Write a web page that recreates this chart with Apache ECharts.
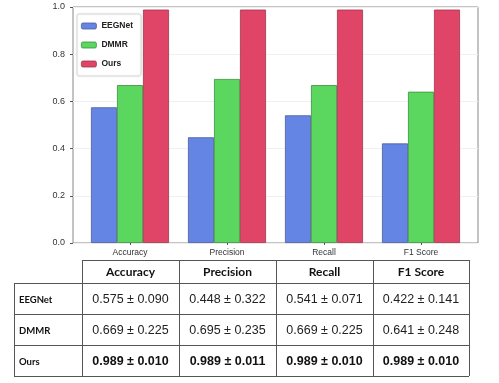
<!DOCTYPE html>
<html>
<head>
<meta charset="utf-8">
<script src="https://cdn.jsdelivr.net/npm/echarts@6/dist/echarts.min.js"></script>
<style>html,body{margin:0;padding:0;background:#fff;}#c{width:499px;height:383px;}</style>
</head>
<body>
<div id="c"></div>
<script>
var categories = ['Accuracy', 'Precision', 'Recall', 'F1 Score'];
var seriesNames = ['EEGNet', 'DMMR', 'Ours'];
var eegnet = [0.575, 0.448, 0.541, 0.422];
var dmmr = [0.669, 0.695, 0.669, 0.641];
var ours = [0.989, 0.989, 0.989, 0.989];
var eegnetStd = [0.090, 0.322, 0.071, 0.141];
var dmmrStd = [0.225, 0.235, 0.225, 0.248];
var oursStd = [0.010, 0.011, 0.010, 0.010];
var yTicks = [0, 0.2, 0.4, 0.6, 0.8, 1.0];

var colors = ['#6585E5', '#5BD65E', '#E04466'];
var borders = ['#4A5C9C', '#3C8E3F', '#A0354D'];

var chart = echarts.init(document.getElementById('c'), null, {renderer: 'canvas'});

// table geometry
var colX = [14, 82, 179, 276, 373, 469];
var rowY = [260, 283, 314, 345, 376];
var lineColor = '#555';
var g = [];
function hline(y, x1, x2) { g.push({type: 'line', shape: {x1: x1, y1: y, x2: x2, y2: y}, style: {stroke: lineColor, lineWidth: 1}, z: 10}); }
function vline(x, y1, y2) { g.push({type: 'line', shape: {x1: x, y1: y1, x2: x, y2: y2}, style: {stroke: lineColor, lineWidth: 1}, z: 10}); }
hline(rowY[0] + 0.5, colX[1], colX[5]);
for (var r = 1; r < rowY.length; r++) hline(rowY[r] + 0.5, colX[0], colX[5]);
vline(colX[0] + 0.5, rowY[1], rowY[4]);
for (var c = 1; c < colX.length; c++) vline(colX[c] + 0.5, rowY[0], rowY[4]);

for (var i = 0; i < categories.length; i++) {
  g.push({type: 'text', x: (colX[i + 1] + colX[i + 2]) / 2, y: (rowY[0] + rowY[1]) / 2 + 1,
    style: {text: categories[i], font: 'bold 12px Lato', fill: '#111', textAlign: 'center', textVerticalAlign: 'middle'}});
}
var tableRows = [[eegnet, eegnetStd], [dmmr, dmmrStd], [ours, oursStd]];
for (var r2 = 0; r2 < seriesNames.length; r2++) {
  var cy = (rowY[r2 + 1] + rowY[r2 + 2]) / 2 + 1;
  var bold = r2 === 2;
  g.push({type: 'text', x: colX[0] + 5, y: cy,
    style: {text: seriesNames[r2], font: 'bold 9.5px Lato', fill: '#111', textAlign: 'left', textVerticalAlign: 'middle'}});
  for (var k = 0; k < categories.length; k++) {
    var txt = tableRows[r2][0][k].toFixed(3) + ' \u00b1 ' + tableRows[r2][1][k].toFixed(3);
    g.push({type: 'text', x: (colX[k + 1] + colX[k + 2]) / 2, y: cy,
      style: {text: txt, font: (bold ? 'bold ' : '') + '12.5px "Liberation Sans"', fill: bold ? '#111' : '#222', textAlign: 'center', textVerticalAlign: 'middle'}});
  }
}

var barData = [eegnet, dmmr, ours];
var series = seriesNames.map(function (name, i) {
  return {
    name: name, type: 'bar', xAxisIndex: 1, yAxisIndex: 1,
    data: barData[i], barWidth: 26, barGap: '0%',
    itemStyle: {color: colors[i], borderColor: borders[i], borderWidth: 0.8},
    emphasis: {disabled: true}
  };
});

chart.setOption({
  animation: false,
  textStyle: {fontFamily: '"Liberation Sans", Arial, sans-serif'},
  grid: [
    {left: 73, top: 7, width: 405, height: 236, show: true, borderColor: '#888', borderWidth: 1, backgroundColor: 'transparent'},
    {left: 81.5, top: 7, width: 388, height: 236}
  ],
  xAxis: [
    {gridIndex: 0, type: 'value', min: 0, max: 1, show: false},
    {gridIndex: 1, type: 'category', data: categories,
      axisLine: {show: false},
      axisTick: {show: true, alignWithLabel: true, length: 2, lineStyle: {color: '#555'}},
      axisLabel: {fontSize: 8.5, color: '#333', margin: 5}}
  ],
  yAxis: [
    {gridIndex: 0, type: 'value', min: 0, max: 1, interval: 0.2,
      axisLine: {show: false},
      axisTick: {show: true, length: 3, lineStyle: {color: '#555'}},
      axisLabel: {fontSize: 9, color: '#333', margin: 8, formatter: function (v) { return v.toFixed(1); }},
      splitLine: {show: true, lineStyle: {color: '#f0f0f0', width: 1}}},
    {gridIndex: 1, type: 'value', min: 0, max: 1, show: false, splitLine: {show: false}}
  ],
  legend: {
    data: seriesNames, orient: 'vertical', left: 77, top: 14,
    itemWidth: 15, itemHeight: 6, itemGap: 9,
    padding: [7, 8, 7, 4],
    borderColor: '#ddd', borderWidth: 1, borderRadius: 2,
    backgroundColor: '#fff', shadowColor: 'rgba(0,0,0,0.12)', shadowBlur: 2,
    textStyle: {fontSize: 8.5, fontWeight: 'bold', color: '#222', lineHeight: 10, height: 10, padding: [0, 0, 0, 0]},
    itemStyle: {borderWidth: 0.8},
    selectedMode: false
  },
  series: series,
  graphic: g
});
</script>
</body>
</html>
